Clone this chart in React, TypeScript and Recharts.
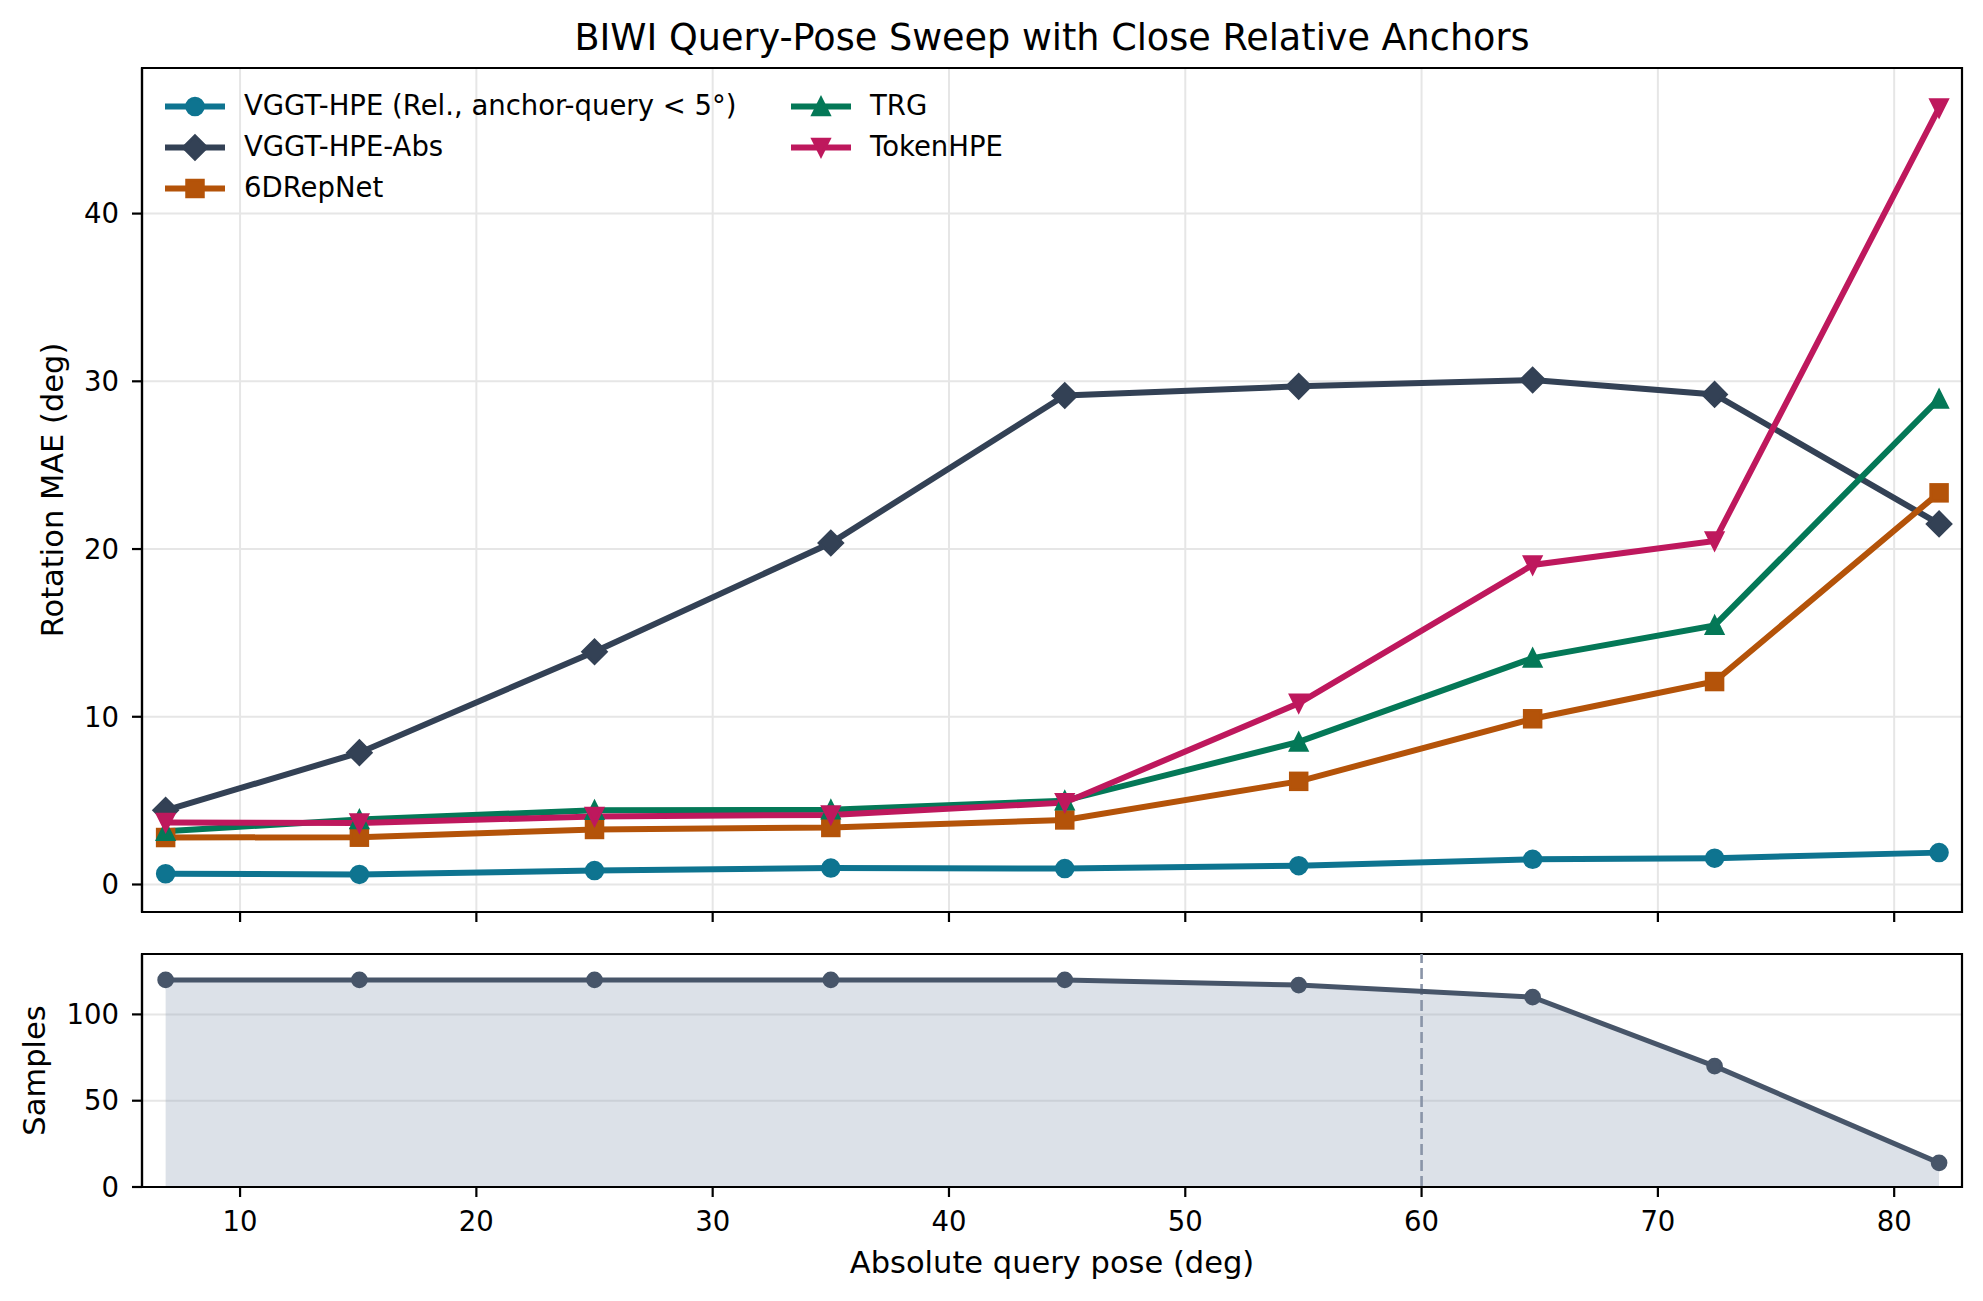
import React from 'react';
import {
  ComposedChart,
  Line,
  Area,
  XAxis,
  YAxis,
  CartesianGrid,
  ReferenceLine,
  ReferenceArea,
  Label,
} from 'recharts';

// x position of each pose bin (deg)
const poseBins = [6.85, 15.05, 25.0, 35.0, 44.9, 54.8, 64.7, 72.4, 81.9];

// rotation MAE per bin (deg)
const vggtRel = [0.64, 0.6, 0.83, 0.98, 0.95, 1.12, 1.5, 1.57, 1.9];
const vggtAbs = [4.42, 7.86, 13.88, 20.36, 29.15, 29.7, 30.08, 29.22, 21.5];
const sixDRep = [2.8, 2.82, 3.28, 3.4, 3.85, 6.15, 9.88, 12.1, 23.35];
const trg = [3.17, 3.87, 4.43, 4.45, 5.0, 8.5, 13.5, 15.45, 28.95];
const tokenHpe = [3.7, 3.67, 4.05, 4.15, 4.88, 10.8, 19.05, 20.48, 46.3];

// samples per bin
const sampleCounts = [120, 120, 120, 120, 120, 117, 110, 70, 14];

const xTicks = [10, 20, 30, 40, 50, 60, 70, 80];
const maeTicks = [0, 10, 20, 30, 40];
const sampleTicks = [0, 50, 100];

const X_DOMAIN: [number, number] = [5.85, 82.87];
const MAE_DOMAIN: [number, number] = [-1.64, 48.68];
const SAMPLE_DOMAIN: [number, number] = [0, 135];

const FONT = '"DejaVu Sans", "Liberation Sans", sans-serif';

type MarkerKind = 'circle' | 'diamond' | 'square' | 'triangle' | 'triangleDown';

const series: { key: string; name: string; color: string; marker: MarkerKind; values: number[] }[] = [
  { key: 'rel', name: 'VGGT-HPE (Rel., anchor-query < 5°)', color: '#0e7490', marker: 'circle', values: vggtRel },
  { key: 'abs', name: 'VGGT-HPE-Abs', color: '#334155', marker: 'diamond', values: vggtAbs },
  { key: 'sixd', name: '6DRepNet', color: '#b45309', marker: 'square', values: sixDRep },
  { key: 'trg', name: 'TRG', color: '#047857', marker: 'triangle', values: trg },
  { key: 'token', name: 'TokenHPE', color: '#be185d', marker: 'triangleDown', values: tokenHpe },
];

const maeRows = poseBins.map((x, i) => {
  const row: Record<string, number> = { x };
  series.forEach((s) => {
    row[s.key] = s.values[i];
  });
  return row;
});

const sampleRows = poseBins.map((x, i) => ({ x, n: sampleCounts[i] }));

function Marker({ kind, cx, cy, color, s }: { kind: MarkerKind; cx: number; cy: number; color: string; s: number }) {
  const common = { fill: color, stroke: color, strokeWidth: 2.8, strokeLinejoin: 'miter' as const };
  if (kind === 'circle') return <circle cx={cx} cy={cy} r={s} {...common} />;
  if (kind === 'square') return <rect x={cx - s} y={cy - s} width={2 * s} height={2 * s} {...common} />;
  if (kind === 'diamond') {
    const d = s * 1.414;
    return <polygon points={`${cx},${cy - d} ${cx + d},${cy} ${cx},${cy + d} ${cx - d},${cy}`} {...common} />;
  }
  if (kind === 'triangle')
    return <polygon points={`${cx},${cy - s} ${cx - s},${cy + s} ${cx + s},${cy + s}`} {...common} />;
  return <polygon points={`${cx},${cy + s} ${cx - s},${cy - s} ${cx + s},${cy - s}`} {...common} />;
}

const tickStyle = { fill: '#000', fontSize: 27.5, fontFamily: FONT };
const axisLineStyle = { stroke: '#000', strokeWidth: 2.2 };

const yLabel = (text: string, baselineX: number) => (props: any) => {
  const vb = props.viewBox || { y: 0, height: 0 };
  const cy = vb.y + vb.height / 2;
  return (
    <text
      x={baselineX}
      y={cy}
      transform={`rotate(-90, ${baselineX}, ${cy})`}
      textAnchor="middle"
      fontSize={30.5}
      fontFamily={FONT}
      fill="#000"
    >
      {text}
    </text>
  );
};

const xLabel = (text: string) => (props: any) => {
  const vb = props.viewBox || { x: 0, y: 0, width: 0 };
  return (
    <text
      x={vb.x + vb.width / 2}
      y={vb.y + 86}
      textAnchor="middle"
      fontSize={30.5}
      fontFamily={FONT}
      fill="#000"
    >
      {text}
    </text>
  );
};

// legend layout: first three entries in column one, the rest in column two
const legendCols = [165, 791];
const legendRows = [115, 156, 197];

export default function App() {
  return (
    <div style={{ position: 'absolute', left: 0, top: 0, width: 1983, height: 1301, background: '#fff' }}>
      <div style={{ position: 'absolute', left: 0, top: 0 }}>
        <ComposedChart width={1983} height={940} data={maeRows} margin={{ top: 68, right: 21, bottom: 0, left: 0 }}>
          <CartesianGrid stroke="#e6e6e6" strokeWidth={2} />
          <XAxis
            dataKey="x"
            type="number"
            domain={X_DOMAIN}
            ticks={xTicks}
            allowDataOverflow
            height={28}
            tickSize={10}
            tickFormatter={() => ''}
            axisLine={axisLineStyle}
            tickLine={axisLineStyle}
          />
          <YAxis
            type="number"
            domain={MAE_DOMAIN}
            ticks={maeTicks}
            allowDataOverflow
            width={142}
            tickSize={10}
            tickMargin={13}
            tick={tickStyle}
            axisLine={axisLineStyle}
            tickLine={axisLineStyle}
          >
            <Label content={yLabel('Rotation MAE (deg)', 63)} />
          </YAxis>
          {series.map((s) => (
            <Line
              key={s.key}
              type="linear"
              dataKey={s.key}
              name={s.name}
              stroke={s.color}
              strokeWidth={6}
              isAnimationActive={false}
              activeDot={false}
              dot={(p: any) => (
                <Marker key={`${s.key}-${p.index}`} kind={s.marker} cx={p.cx} cy={p.cy} color={s.color} s={8.35} />
              )}
            />
          ))}
          <ReferenceArea
            x1={X_DOMAIN[0]}
            x2={X_DOMAIN[1]}
            y1={MAE_DOMAIN[0]}
            y2={MAE_DOMAIN[1]}
            fill="none"
            stroke="#000"
            strokeWidth={2.2}
            ifOverflow="visible"
          />
        </ComposedChart>
      </div>

      <div style={{ position: 'absolute', left: 0, top: 940 }}>
        <ComposedChart width={1983} height={361} data={sampleRows} margin={{ top: 14, right: 21, bottom: 0, left: 0 }}>
          <CartesianGrid stroke="#e6e6e6" strokeWidth={2} vertical={false} />
          <XAxis
            dataKey="x"
            type="number"
            domain={X_DOMAIN}
            ticks={xTicks}
            allowDataOverflow
            height={114}
            tickSize={10}
            tickMargin={14}
            tick={tickStyle}
            axisLine={axisLineStyle}
            tickLine={axisLineStyle}
          >
            <Label content={xLabel('Absolute query pose (deg)')} />
          </XAxis>
          <YAxis
            type="number"
            domain={SAMPLE_DOMAIN}
            ticks={sampleTicks}
            allowDataOverflow
            width={142}
            tickSize={10}
            tickMargin={13}
            tick={tickStyle}
            axisLine={axisLineStyle}
            tickLine={axisLineStyle}
          >
            <Label content={yLabel('Samples', 45)} />
          </YAxis>
          <Area
            type="linear"
            dataKey="n"
            stroke="none"
            fill="#94a3b8"
            fillOpacity={0.33}
            baseValue={0}
            isAnimationActive={false}
            activeDot={false}
          />
          <ReferenceLine x={60} stroke="#8a95a8" strokeWidth={2.6} strokeDasharray="11 5" />
          <Line
            type="linear"
            dataKey="n"
            stroke="#475569"
            strokeWidth={5}
            isAnimationActive={false}
            activeDot={false}
            dot={(p: any) => (
              <Marker key={`n-${p.index}`} kind="circle" cx={p.cx} cy={p.cy} color="#475569" s={6.95} />
            )}
          />
          <ReferenceArea
            x1={X_DOMAIN[0]}
            x2={X_DOMAIN[1]}
            y1={SAMPLE_DOMAIN[0]}
            y2={SAMPLE_DOMAIN[1]}
            fill="none"
            stroke="#000"
            strokeWidth={2.2}
            ifOverflow="visible"
          />
        </ComposedChart>
      </div>

      <svg
        width={1983}
        height={1301}
        style={{ position: 'absolute', left: 0, top: 0, pointerEvents: 'none' }}
      >
        <text x={1052} y={50} textAnchor="middle" fontSize={36.6} fontFamily={FONT} fill="#000">
          BIWI Query-Pose Sweep with Close Relative Anchors
        </text>
        {series.map((s, i) => {
          const x0 = legendCols[i < 3 ? 0 : 1];
          const base = legendRows[i < 3 ? i : i - 3];
          const cy = base - 8.5;
          return (
            <g key={s.key}>
              <line x1={x0} x2={x0 + 60} y1={cy} y2={cy} stroke={s.color} strokeWidth={6} />
              <Marker kind={s.marker} cx={x0 + 30} cy={cy} color={s.color} s={8.35} />
              <text x={x0 + 79} y={base} fontSize={27.5} fontFamily={FONT} fill="#000">
                {s.name}
              </text>
            </g>
          );
        })}
      </svg>
    </div>
  );
}
